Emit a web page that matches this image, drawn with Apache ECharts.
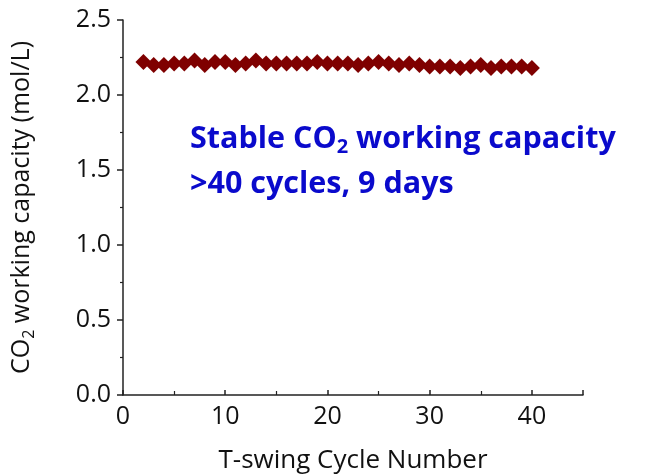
<!DOCTYPE html>
<html>
<head>
<meta charset="utf-8">
<script src="https://cdn.jsdelivr.net/npm/echarts@6/dist/echarts.min.js"></script>
<style>
  html, body { margin: 0; padding: 0; background: #fff; }
  #chart { width: 651px; height: 475px; }
</style>
</head>
<body>
<div id="chart"></div>
<script>
// Cycle numbers and measured CO2 working capacity (mol/L)
const cycles = [2, 3, 4, 5, 6, 7, 8, 9, 10, 11, 12, 13, 14, 15, 16, 17, 18, 19, 20, 21,
                22, 23, 24, 25, 26, 27, 28, 29, 30, 31, 32, 33, 34, 35, 36, 37, 38, 39, 40];
const capacity = [2.22, 2.20, 2.20, 2.21, 2.21, 2.23, 2.20, 2.22, 2.22, 2.20,
                  2.21, 2.23, 2.21, 2.21, 2.21, 2.21, 2.21, 2.22, 2.21, 2.21,
                  2.21, 2.20, 2.21, 2.22, 2.21, 2.20, 2.21, 2.20, 2.19, 2.19,
                  2.19, 2.18, 2.19, 2.20, 2.18, 2.19, 2.19, 2.19, 2.18];

const FONT = "'Open Sans', 'Liberation Sans', sans-serif";
const INK = '#111111';

const chart = echarts.init(document.getElementById('chart'), null, { renderer: 'canvas' });

chart.setOption({
  backgroundColor: '#ffffff',
  animation: false,
  grid: { left: 123, top: 20, right: 68, bottom: 80, containLabel: false, outerBoundsMode: 'none' },
  xAxis: {
    type: 'value',
    min: 0, max: 45, interval: 10,
    name: 'T-swing Cycle Number',
    nameLocation: 'middle',
    nameGap: 53,
    nameTextStyle: { fontFamily: FONT, fontSize: 26, color: INK },
    axisLine: { show: true, lineStyle: { color: '#222', width: 1.5 } },
    axisTick: { show: true, inside: true, length: 5, lineStyle: { color: '#222', width: 1.5 } },
    minorTick: { show: true, splitNumber: 2, length: 4, lineStyle: { color: '#222', width: 1.2 } },
    axisLabel: {
      fontFamily: FONT, fontSize: 25, color: INK, margin: 9,
      formatter: v => (v > 40 ? '' : String(v))
    },
    splitLine: { show: false }
  },
  yAxis: {
    type: 'value',
    min: 0, max: 2.5, interval: 0.5,
    name: '{n|CO}{s|2}{n| working capacity (mol/L)}',
    nameLocation: 'middle',
    nameGap: 86,
    nameRotate: 90,
    nameTextStyle: {
      rich: {
        n: { fontFamily: FONT, fontSize: 25, color: INK },
        s: { fontFamily: FONT, fontSize: 16, color: INK, padding: [14, 0, 0, 0] }
      }
    },
    axisLine: { show: true, lineStyle: { color: '#222', width: 1.5 } },
    axisTick: { show: true, length: 6, lineStyle: { color: '#222', width: 1.5 } },
    minorTick: { show: true, splitNumber: 2, length: 3, lineStyle: { color: '#222', width: 1.2 } },
    axisLabel: {
      fontFamily: FONT, fontSize: 25, color: INK, margin: 12,
      formatter: v => v.toFixed(1)
    },
    splitLine: { show: false }
  },
  series: [{
    type: 'scatter',
    data: cycles.map((c, i) => [c, capacity[i]]),
    symbol: 'diamond',
    symbolSize: [16, 16],
    itemStyle: { color: '#7f0000', opacity: 1 }
  }],
  graphic: [{
    type: 'text',
    left: 190,
    top: 121,
    style: {
      text: '{b|Stable CO}{sub|2}{b| working capacity}\n{b|>40 cycles, 9 days}',
      rich: {
        b: { fontFamily: FONT, fontSize: 30.5, fontWeight: 'bold', fill: '#0a0acc', lineHeight: 45 },
        sub: { fontFamily: FONT, fontSize: 20, fontWeight: 'bold', fill: '#0a0acc', padding: [16, 0, 0, 0], lineHeight: 45 }
      }
    }
  }]
});
</script>
</body>
</html>
